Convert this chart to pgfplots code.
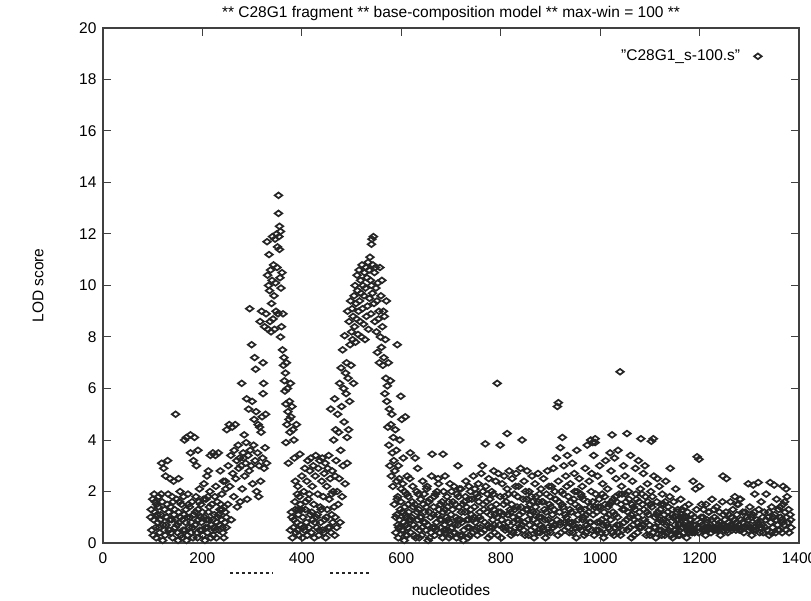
\documentclass[border=0pt]{standalone}
\usepackage{fontspec}
\setmainfont{Liberation Sans}
\usepackage{pgfplots}
\usepackage{pgfplotstable}
\pgfplotsset{compat=1.18}
\newcommand{\fs}{\fontsize{15.5}{18}\selectfont}
\pgfplotstableread{
x y
96 1.0
98 0.5
100 1.7
102 0.9
103 1.9
104 1.2
106 0.6
107 0.2
108 1.5
110 0.8
111 1.4
112 1.8
114 0.4
115 0.9
116 1.1
118 3.1
119 1.6
120 0.1
121 0.7
122 2.9
124 1.3
125 0.3
126 2.6
127 0.7
128 1.0
130 3.2
131 1.9
132 1.2
133 0.5
135 2.5
136 1.4
137 0.4
138 0.9
140 0.2
141 1.6
142 2.4
143 1.1
145 0.6
146 5.0
147 0.9
148 1.7
150 0.4
151 0.1
152 1.2
152 2.5
153 0.8
155 2.0
156 1.0
157 0.3
158 1.5
160 0.9
161 0.5
162 1.8
164 4.0
165 0.5
166 0.8
167 1.3
168 0.1
168 4.1
169 1.0
170 0.3
171 1.9
173 0.6
174 1.4
175 1.0
176 4.2
176 3.5
178 0.8
179 1.6
180 0.6
181 0.2
182 3.2
183 1.1
184 4.1
185 0.7
186 1.2
187 1.8
188 3.0
189 0.4
190 0.2
191 1.3
191 3.6
192 0.9
194 2.1
195 0.5
196 1.0
197 1.5
198 0.8
199 0.5
200 1.2
201 0.3
202 1.7
203 2.3
204 1.0
205 0.1
206 0.6
207 1.7
208 0.9
209 2.6
210 0.4
211 0.6
212 1.2
212 2.8
213 0.9
214 1.4
215 2.0
216 3.4
217 0.2
218 0.7
219 1.5
220 0.9
221 3.5
222 0.3
223 0.6
224 1.1
225 1.8
226 3.4
227 2.2
228 0.2
229 0.8
230 1.6
231 1.0
232 3.5
233 0.5
234 0.7
235 1.3
236 2.8
237 1.5
238 0.9
239 1.9
240 0.6
241 0.4
242 2.4
243 0.2
244 1.4
245 0.8
246 1.2
247 2.1
248 1.0
97 1.3
101 0.3
105 1.6
109 1.1
113 0.6
117 1.9
123 0.5
129 1.5
134 0.9
139 1.8
144 1.3
149 0.7
154 1.6
159 0.2
163 1.1
172 1.5
177 0.4
193 1.6
211 1.8
226 0.5
232 1.1
240 1.3
246 2.4
248 0.6
249 4.4
251 1.5
252 3.0
254 4.6
255 2.2
257 3.4
258 0.9
260 4.5
261 2.7
263 1.8
264 3.6
266 4.6
267 2.5
269 3.2
270 1.4
272 3.8
273 2.9
275 3.3
276 1.6
278 3.0
279 6.2
280 2.1
282 3.5
283 3.3
284 4.2
285 2.6
287 3.1
288 3.9
289 5.6
290 1.7
292 3.4
293 5.2
294 2.8
295 9.1
296 3.6
298 3.0
299 7.7
300 5.5
301 2.3
303 3.8
304 4.8
305 7.2
306 3.2
307 6.75
308 5.1
309 2.0
311 3.5
312 4.6
313 1.8
314 3.0
315 4.5
316 8.6
317 2.4
318 4.3
319 9.0
320 4.9
321 3.3
322 7.0
322 5.8
323 6.2
324 2.9
325 8.4
326 3.7
327 5.0
328 8.9
329 3.1
330 11.7
331 10.4
332 8.3
333 10.0
334 11.2
335 9.8
336 8.6
337 10.6
338 8.2
339 9.3
340 10.2
341 11.9
342 8.7
343 10.8
344 9.6
345 8.3
346 11.8
347 10.1
348 9.0
349 12.0
350 10.7
351 11.5
352 8.9
353 13.5
353 12.8
354 11.9
355 12.3
355 11.4
356 10.3
357 8.0
357 12.1
358 9.9
359 8.4
360 10.5
361 7.5
362 8.9
363 6.9
364 7.2
365 6.3
366 5.9
367 6.6
368 3.9
368 5.4
369 7.0
370 4.6
371 6.0
372 5.1
373 3.1
374 4.8
375 5.5
376 4.3
377 6.2
378 4.9
380 5.3
382 4.4
384 4.0
385 3.3
387 2.4
389 4.6
391 1.9
393 1.3
377 0.5
379 1.2
381 0.2
384 0.9
386 1.6
388 0.4
390 0.8
392 2.2
393 1.1
394 0.3
396 3.45
397 1.5
398 0.7
400 2.6
401 0.2
402 1.0
404 2.0
405 0.5
406 2.9
407 1.3
409 0.8
410 2.4
411 0.3
412 3.2
413 1.7
414 0.6
416 2.8
417 1.1
418 3.3
419 0.4
421 2.2
422 0.9
423 3.0
424 1.5
425 0.2
427 2.6
428 3.4
429 1.0
430 0.6
432 1.9
433 2.9
434 0.3
436 3.2
437 1.4
438 0.8
440 2.4
441 3.3
442 0.5
443 1.8
445 2.7
446 0.9
447 3.1
448 0.2
450 2.2
451 1.3
452 2.9
453 0.6
454 3.4
455 1.7
457 2.5
458 5.2
459 0.4
460 1.1
461 2.8
462 0.8
463 2.0
464 4.0
465 1.4
466 0.3
467 2.6
380 1.0
383 0.6
387 1.3
391 0.5
395 1.8
399 1.3
403 0.6
408 1.6
415 1.9
420 1.2
426 0.8
431 1.1
435 0.5
439 1.3
444 0.4
449 1.0
456 0.6
460 1.9
466 5.6
467 1.0
468 4.4
469 3.2
470 0.6
471 2.0
472 5.0
473 1.5
474 4.3
475 2.5
476 6.2
477 0.8
478 3.6
479 6.8
480 5.3
481 1.8
482 7.5
483 3.0
484 6.0
485 4.7
486 8.05
487 2.3
488 6.6
489 5.8
490 7.0
491 3.1
491 4.1
492 9.0
493 6.4
494 4.4
495 8.6
496 5.5
497 7.7
498 9.4
499 6.9
500 8.2
501 9.1
502 7.9
503 8.8
504 6.2
505 9.6
506 8.4
507 10.0
508 7.8
509 9.3
510 8.7
511 10.4
512 9.8
513 8.1
514 9.0
515 10.6
516 9.4
517 8.6
518 10.2
519 9.7
520 8.0
521 10.8
522 9.1
523 10.0
524 8.5
525 9.6
526 10.5
527 7.9
528 9.9
529 10.7
530 8.8
531 10.3
532 9.2
533 10.9
534 8.3
535 10.6
536 9.5
537 11.1
538 10.2
539 8.9
540 11.6
540 10.0
541 11.8
542 9.7
543 10.8
544 11.9
545 9.3
546 10.5
547 8.6
548 10.7
549 9.9
550 8.2
551 9.4
552 7.4
553 10.1
554 8.7
555 9.0
556 7.0
557 10.7
558 8.0
559 9.6
560 7.6
561 10.2
562 8.4
563 6.9
564 9.0
565 7.2
566 8.8
567 5.8
568 7.9
569 6.4
570 9.4
571 5.5
572 6.1
573 4.5
574 7.0
575 3.8
576 5.2
577 3.0
578 6.3
579 4.6
580 2.6
581 5.0
582 3.5
583 2.2
584 4.1
585 3.2
586 1.5
587 2.8
588 4.4
589 1.0
590 3.6
591 2.4
592 7.7
593 1.8
594 3.0
595 0.6
596 2.5
597 4.0
599 5.7
600 2.1
601 4.8
602 1.2
604 3.3
606 2.0
608 4.9
610 0.7
612 2.6
614 1.5
589 0.4
591 1.1
594 0.2
596 0.9
599 1.6
601 0.5
603 2.3
605 0.8
607 1.4
609 0.3
611 1.9
613 0.6
615 1.2
617 2.5
619 0.4
621 1.0
623 2.2
625 0.7
627 1.5
629 0.2
631 2.0
633 0.9
635 1.3
637 0.5
618 3.5
633 2.9
628 3.3
592 1.7
597 0.6
602 1.2
606 0.1
610 1.0
614 1.8
620 0.9
624 1.4
630 0.6
634 1.9
638 1.0
639 1.7
641 0.3
643 2.4
645 0.8
647 1.2
649 0.5
651 2.1
653 0.7
655 1.6
657 0.2
659 1.0
661 2.6
663 0.6
665 1.4
667 0.3
669 1.9
671 0.8
673 1.1
675 2.3
677 0.4
679 1.5
681 0.9
683 0.2
685 2.0
687 0.7
652 2.2
662 3.45
684 3.45
674 2.5
688 2.6
642 0.6
646 1.9
650 1.4
654 0.1
658 1.7
664 1.1
668 0.6
672 2.0
676 1.3
680 0.6
684 1.2
688 1.3
690 0.5
692 1.8
694 0.9
696 0.2
698 2.3
700 1.1
702 0.6
704 1.6
706 2.2
708 0.4
710 1.0
712 1.9
714 0.7
714 3.0
716 1.4
718 0.3
720 2.1
722 0.8
724 1.5
726 0.5
728 1.2
730 2.4
732 0.9
734 0.2
736 1.7
689 0.4
693 1.4
697 0.8
701 2.0
705 0.4
709 1.5
713 0.9
717 2.1
721 1.2
725 0.1
729 1.8
733 0.6
737 0.6
739 2.0
741 1.1
743 0.4
745 2.6
747 1.4
749 0.8
751 1.9
753 0.3
755 2.3
757 1.0
759 0.6
761 2.7
763 3.0
765 1.5
767 0.5
769 3.85
770 2.2
772 1.2
774 0.7
776 2.5
778 1.7
780 0.3
782 2.0
784 0.9
786 2.8
736 2.2
740 1.3
744 0.9
748 2.1
752 0.6
756 1.6
760 0.9
764 2.0
768 0.8
771 1.6
775 0.2
779 1.1
783 0.6
786 1.3
788 0.4
790 2.4
793 6.2
793 1.0
795 2.7
797 0.7
799 3.8
799 1.8
801 0.2
803 2.3
805 1.1
807 2.6
809 0.5
811 1.6
813 4.25
813 2.1
815 0.8
817 2.8
819 1.3
821 0.3
823 2.5
825 1.0
827 1.9
829 0.6
831 2.7
833 1.4
785 1.9
789 1.1
794 0.3
800 1.2
804 0.6
808 1.8
814 1.1
818 0.5
822 1.5
826 0.8
830 2.2
834 1.8
834 0.4
836 2.2
838 1.1
840 2.9
843 4.0
843 0.7
845 1.7
847 2.4
849 0.3
851 1.3
853 2.8
855 0.9
857 2.0
859 1.5
861 0.5
863 2.6
865 1.2
867 0.2
869 2.3
871 1.8
873 0.8
875 2.7
877 1.0
879 0.4
881 2.1
883 1.6
837 0.9
841 1.4
846 0.5
850 2.0
854 1.3
858 0.7
862 1.8
866 0.9
870 1.4
874 0.4
878 1.9
882 1.0
884 0.6
886 2.5
888 1.3
890 0.2
892 1.9
894 2.8
896 0.9
898 1.5
900 0.4
902 2.2
904 1.1
906 2.9
908 0.7
910 1.7
912 3.3
914 5.3
915 0.3
916 5.45
916 2.4
918 1.2
920 3.7
920 0.8
922 2.0
924 4.1
925 1.4
927 3.0
929 0.5
931 2.6
885 1.6
889 0.9
893 0.4
897 2.2
901 1.4
905 0.6
909 2.0
913 0.9
917 1.6
921 0.4
926 1.9
930 1.1
932 1.0
934 3.4
936 1.8
938 0.4
940 2.3
942 1.2
944 3.1
946 0.7
948 2.7
950 1.5
952 0.2
953 3.6
954 2.0
956 0.9
958 2.5
960 1.3
962 0.5
964 2.2
966 1.7
968 0.3
970 2.9
972 1.1
974 3.8
976 0.6
978 2.4
980 1.4
981 4.0
985 3.9
990 4.05
933 2.2
937 0.8
941 1.6
945 0.4
949 2.0
955 1.1
959 0.6
963 1.8
967 1.0
971 0.4
975 1.6
979 0.8
981 0.8
983 2.7
985 1.6
987 3.4
988 0.3
990 3.9
991 1.9
993 1.2
995 2.6
997 0.5
999 3.0
1001 1.4
1003 0.9
1005 2.3
1007 0.2
1009 1.8
1011 3.2
1013 1.0
1015 2.1
1017 0.6
1019 1.5
1020 3.5
1022 2.8
1024 4.2
1025 0.4
1027 1.7
1029 3.3
982 2.0
986 1.1
992 0.5
996 1.4
1000 0.8
1004 1.9
1008 1.2
1012 0.4
1016 1.4
1021 0.9
1026 1.2
1030 0.6
1030 1.1
1032 2.5
1034 0.7
1036 3.6
1038 1.9
1040 6.65
1041 0.3
1043 2.2
1045 1.3
1047 3.0
1048 0.8
1050 2.6
1052 1.6
1054 4.25
1055 0.5
1057 2.0
1059 1.0
1061 3.4
1063 0.2
1065 2.4
1067 1.4
1069 0.9
1071 2.9
1073 1.7
1075 0.4
1077 3.2
1079 1.2
1033 1.6
1037 0.4
1042 1.5
1046 0.5
1051 1.9
1056 1.2
1060 0.6
1064 1.5
1068 0.3
1072 1.9
1076 1.0
1082 4.05
1081 2.1
1083 0.6
1085 1.5
1087 2.7
1089 0.9
1090 3.0
1091 1.8
1093 0.3
1095 2.3
1097 1.1
1099 0.7
1103 3.95
1102 2.0
1104 1.4
1106 0.4
1107 4.05
1108 2.6
1110 1.0
1112 0.2
1114 1.6
1115 2.5
1117 0.8
1119 2.2
1121 1.3
1123 0.5
1125 1.9
1127 0.9
1079 0.6
1084 1.9
1088 1.3
1092 0.8
1096 1.6
1100 0.3
1105 1.8
1109 0.6
1113 1.1
1118 0.5
1122 1.5
1126 0.8
1128 1.5
1130 0.3
1132 2.4
1134 0.8
1136 1.2
1138 0.5
1140 1.8
1141 2.9
1142 0.6
1144 1.1
1146 0.2
1148 1.6
1150 0.7
1152 2.1
1154 0.4
1156 1.3
1158 0.9
1160 0.3
1162 1.7
1164 0.6
1166 1.0
1168 0.4
1170 1.4
1172 0.8
1174 0.2
1176 1.2
1129 1.1
1133 0.7
1137 1.4
1143 0.3
1147 1.0
1151 0.5
1155 1.2
1159 0.7
1163 1.1
1167 0.6
1171 1.0
1175 0.5
1176 0.6
1178 1.5
1180 0.9
1182 0.5
1184 1.1
1187 2.4
1188 0.7
1190 0.4
1192 2.1
1195 3.35
1196 0.6
1199 3.25
1200 2.2
1202 0.8
1204 1.5
1206 0.5
1208 1.3
1210 0.6
1212 0.3
1213 1.5
1215 0.9
1217 0.5
1219 1.2
1221 0.6
1223 0.4
1225 1.7
1177 0.7
1181 0.6
1187 0.5
1193 0.7
1199 0.6
1205 0.7
1211 0.5
1216 0.6
1222 0.7
1226 0.6
1228 0.5
1230 1.0
1232 0.6
1234 1.4
1236 0.5
1238 0.7
1240 1.2
1242 0.3
1244 0.6
1246 1.6
1247 2.6
1249 0.5
1251 0.9
1254 2.5
1255 0.6
1257 0.4
1259 1.1
1262 1.6
1263 0.6
1265 0.5
1267 1.3
1269 0.6
1271 1.8
1273 0.5
1227 0.6
1233 0.5
1239 0.6
1245 0.7
1250 0.6
1256 0.5
1262 0.7
1268 0.6
1276 1.5
1282 1.7
1274 0.8
1276 0.6
1278 1.5
1280 0.5
1281 1.7
1283 0.9
1285 0.6
1287 1.2
1289 0.4
1298 2.3
1293 0.6
1295 1.0
1308 2.25
1299 0.5
1301 1.4
1303 0.7
1305 0.3
1307 1.1
1309 0.6
1311 1.9
1313 0.5
1318 2.35
1317 0.8
1319 1.3
1321 0.4
1323 0.6
1279 0.7
1284 0.5
1290 0.6
1296 0.7
1302 0.6
1308 0.5
1324 1.6
1326 0.7
1328 0.4
1330 1.2
1332 0.6
1334 1.9
1336 0.5
1338 1.0
1340 0.3
1342 2.35
1343 0.8
1345 1.4
1347 0.6
1350 2.25
1351 1.1
1353 0.4
1355 1.7
1357 0.7
1359 1.3
1361 0.5
1368 2.2
1365 0.9
1374 2.1
1363 1.0
1366 0.4
1368 1.5
1370 0.7
1372 1.2
1374 0.5
1376 1.8
1378 0.8
1380 0.4
1382 1.1
1384 0.6
593 0.7
598 1.3
604 0.5
608 1.1
612 0.3
616 0.9
622 1.6
626 0.3
632 1.2
636 0.2
640 1.0
644 1.5
648 0.8
656 1.2
660 0.4
666 1.8
670 0.5
678 0.9
682 1.6
686 0.5
691 1.0
695 1.6
699 0.3
703 1.3
707 0.7
711 0.2
715 1.8
719 0.9
723 0.3
727 1.6
731 1.4
735 0.9
738 0.3
742 1.7
746 1.0
750 0.5
754 1.8
758 1.2
762 0.4
766 1.3
773 1.9
777 0.6
781 1.4
787 0.7
791 1.5
796 1.2
802 0.9
806 1.5
810 0.6
816 1.9
820 1.2
824 0.4
828 1.3
832 0.9
839 0.6
844 1.2
848 0.8
852 1.7
856 0.3
860 1.1
864 1.6
868 0.6
872 1.2
876 1.6
880 0.7
887 0.5
891 1.2
895 0.6
899 1.8
903 0.8
907 1.3
911 1.7
919 0.7
923 1.5
928 0.8
935 0.6
939 1.3
943 0.8
947 1.7
951 0.6
957 1.4
961 1.9
965 0.9
969 1.3
973 0.7
977 1.2
984 0.5
989 1.4
994 0.8
998 1.7
1002 0.4
1006 0.7
1010 1.5
1014 0.7
1018 1.1
1023 1.6
1028 0.3
1031 1.8
1035 1.0
1039 0.7
1044 1.9
1049 1.3
1053 0.9
1058 1.7
1062 1.1
1066 0.7
1070 1.3
1074 0.8
1078 1.6
1086 0.7
1094 1.2
1098 0.5
1101 1.5
1111 0.6
1116 1.2
1120 0.9
1124 0.3
1131 1.6
1135 0.4
1139 1.0
1145 1.3
1149 0.5
1153 0.9
1157 0.3
1161 1.0
1165 1.3
1169 0.7
1173 1.0
1179 0.4
1183 0.9
1185 0.4
1189 1.0
1194 1.3
1198 0.4
1203 1.0
1207 1.0
1214 0.8
1218 1.2
1224 0.9
1229 1.3
1235 0.9
1241 0.8
1248 1.1
1253 1.2
1258 0.8
1264 1.0
1270 0.9
1275 1.1
1286 0.8
1292 1.2
1297 0.9
1304 1.0
1310 1.2
1315 0.9
1320 0.7
1327 1.0
1333 0.9
1339 1.2
1344 0.4
1349 1.0
1354 0.9
1358 0.5
1362 1.4
1367 0.8
1371 1.6
1375 1.0
1379 1.3
1383 0.9
}\lodtable
\begin{document}
\begin{tikzpicture}
\path[use as bounding box] (0,0) rectangle (811pt,600pt);
\begin{axis}[
  at={(103pt,57pt)}, anchor=south west,
  scale only axis, width=696pt, height=515pt,
  xmin=0, xmax=1400, ymin=0, ymax=20,
  xtick={0,200,...,1400}, ytick={0,2,...,20},
  tick pos=both, tick align=inside, major tick length=8pt,
  axis line style={black!75, line width=1.4pt},
  every tick/.style={black!75, line width=1pt},
  tick label style={font=\fs},
  /pgf/number format/assume math mode=true,
  /pgf/number format/1000 sep={},
  xticklabel style={yshift=-6pt},
  yticklabel style={xshift=-3pt},
  title={** C28G1 fragment ** base-composition model ** max-win = 100 **},
  title style={at={(axis description cs:0.5,1)}, anchor=center, yshift=9pt, font=\fs},
  xlabel={nucleotides},
  xlabel style={at={(axis description cs:0.5,-0.0913)}, anchor=center, font=\fs},
  ylabel={LOD score},
  ylabel style={at={(axis description cs:-0.0934,0.5)}, anchor=center, font=\fs},
  legend style={at={(0.951,0.945)}, anchor=east, draw=none, fill=none, font=\fs},
  legend plot pos=right,
  clip=false,
]
\addplot[only marks, black!85, mark=diamond, mark size=3.8pt, mark options={rotate=90, line width=1.7pt}] table[x=x, y=y] {\lodtable};
\addlegendentry{"C28G1\_s-100.s"\kern12pt}
\addplot[forget plot, black!85, line width=2.2pt, dash pattern=on 3pt off 3pt] coordinates {(255,-1.17) (340,-1.17)};
\addplot[forget plot, black!85, line width=2.2pt, dash pattern=on 3pt off 3pt] coordinates {(457,-1.17) (541,-1.17)};
\end{axis}
\end{tikzpicture}
\end{document}
